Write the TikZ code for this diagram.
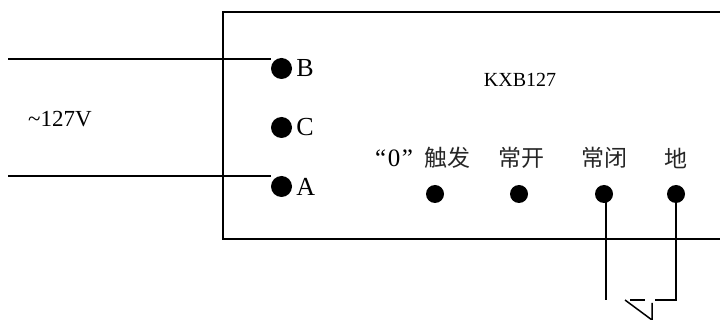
\documentclass[tikz,border=0pt]{standalone}
\usepackage{fontspec}
\setmainfont{Liberation Serif}
\newfontfamily\cjk{Noto Sans CJK SC}
\usetikzlibrary{positioning}
\tikzset{
  bigdot/.style={circle,fill=black,inner sep=0pt,minimum size=21pt},
  smalldot/.style={circle,fill=black,inner sep=0pt,minimum size=18pt},
  txt/.style={inner sep=0pt,font=\fontsize{26}{26}\selectfont},
  cjktxt/.style={inner sep=0pt,font=\fontsize{23}{23}\selectfont\cjk,text=black!85},
  wire/.style={line width=1.5pt}
}
\begin{document}
\begin{tikzpicture}[x=1pt,y=-1pt]
  \useasboundingbox (0,0) rectangle (720,320);
  \draw[wire] (720,12) -- (223,12) -- (223,239) -- (720,239);

  \node[bigdot] at (281.5,68.5) (b){};
  \node[bigdot] at (281.5,127.5) (c){};
  \node[bigdot] at (281.5,186.5) (a){};
  \node[txt,right=4pt of b] {B};
  \node[txt,right=4pt of c] {C};
  \node[txt,right=4pt of a] {A};

  \node[smalldot] at (435,194) (trig){};
  \node[smalldot] at (519,194) (no){};
  \node[smalldot] at (604,194) (nc){};
  \node[smalldot] at (676,194) (gnd){};

  \node[txt,font=\fontsize{23}{23}\selectfont] at (60,119) (volt){\textasciitilde 127V};
  \node[txt,font=\fontsize{20}{20}\selectfont] at (520,80) (model){KXB127};
  \node[txt,font=\fontsize{25}{25}\selectfont\addfontfeature{LetterSpace=6}] at (394,158) (zero){“0”};
  \node[cjktxt] at (447,158) (ltrig){触发};
  \node[cjktxt] at (521,158) (lno){常开};
  \node[cjktxt] at (604,158) (lnc){常闭};
  \node[cjktxt] at (676,158) (lgnd){地};

  \coordinate (bend) at (8,59);
  \coordinate (aend) at (8,176);
  \draw[wire] (bend) -- (b.west |- bend);
  \draw[wire] (aend) -- (a.west |- aend);

  \coordinate (ncend) at (606,300);
  \coordinate (gndend) at (676,300);
  \coordinate (gap) at (655,300);
  \draw[wire] (nc.center) ++(2,0) -- (ncend);
  \draw[wire] (gnd.south) -- (gndend) -- (gap);
  \draw[wire] (630,300) -- (645,300);
  \draw[wire] (625,300) -- (652,320) -- (652,303);
\end{tikzpicture}
\end{document}
